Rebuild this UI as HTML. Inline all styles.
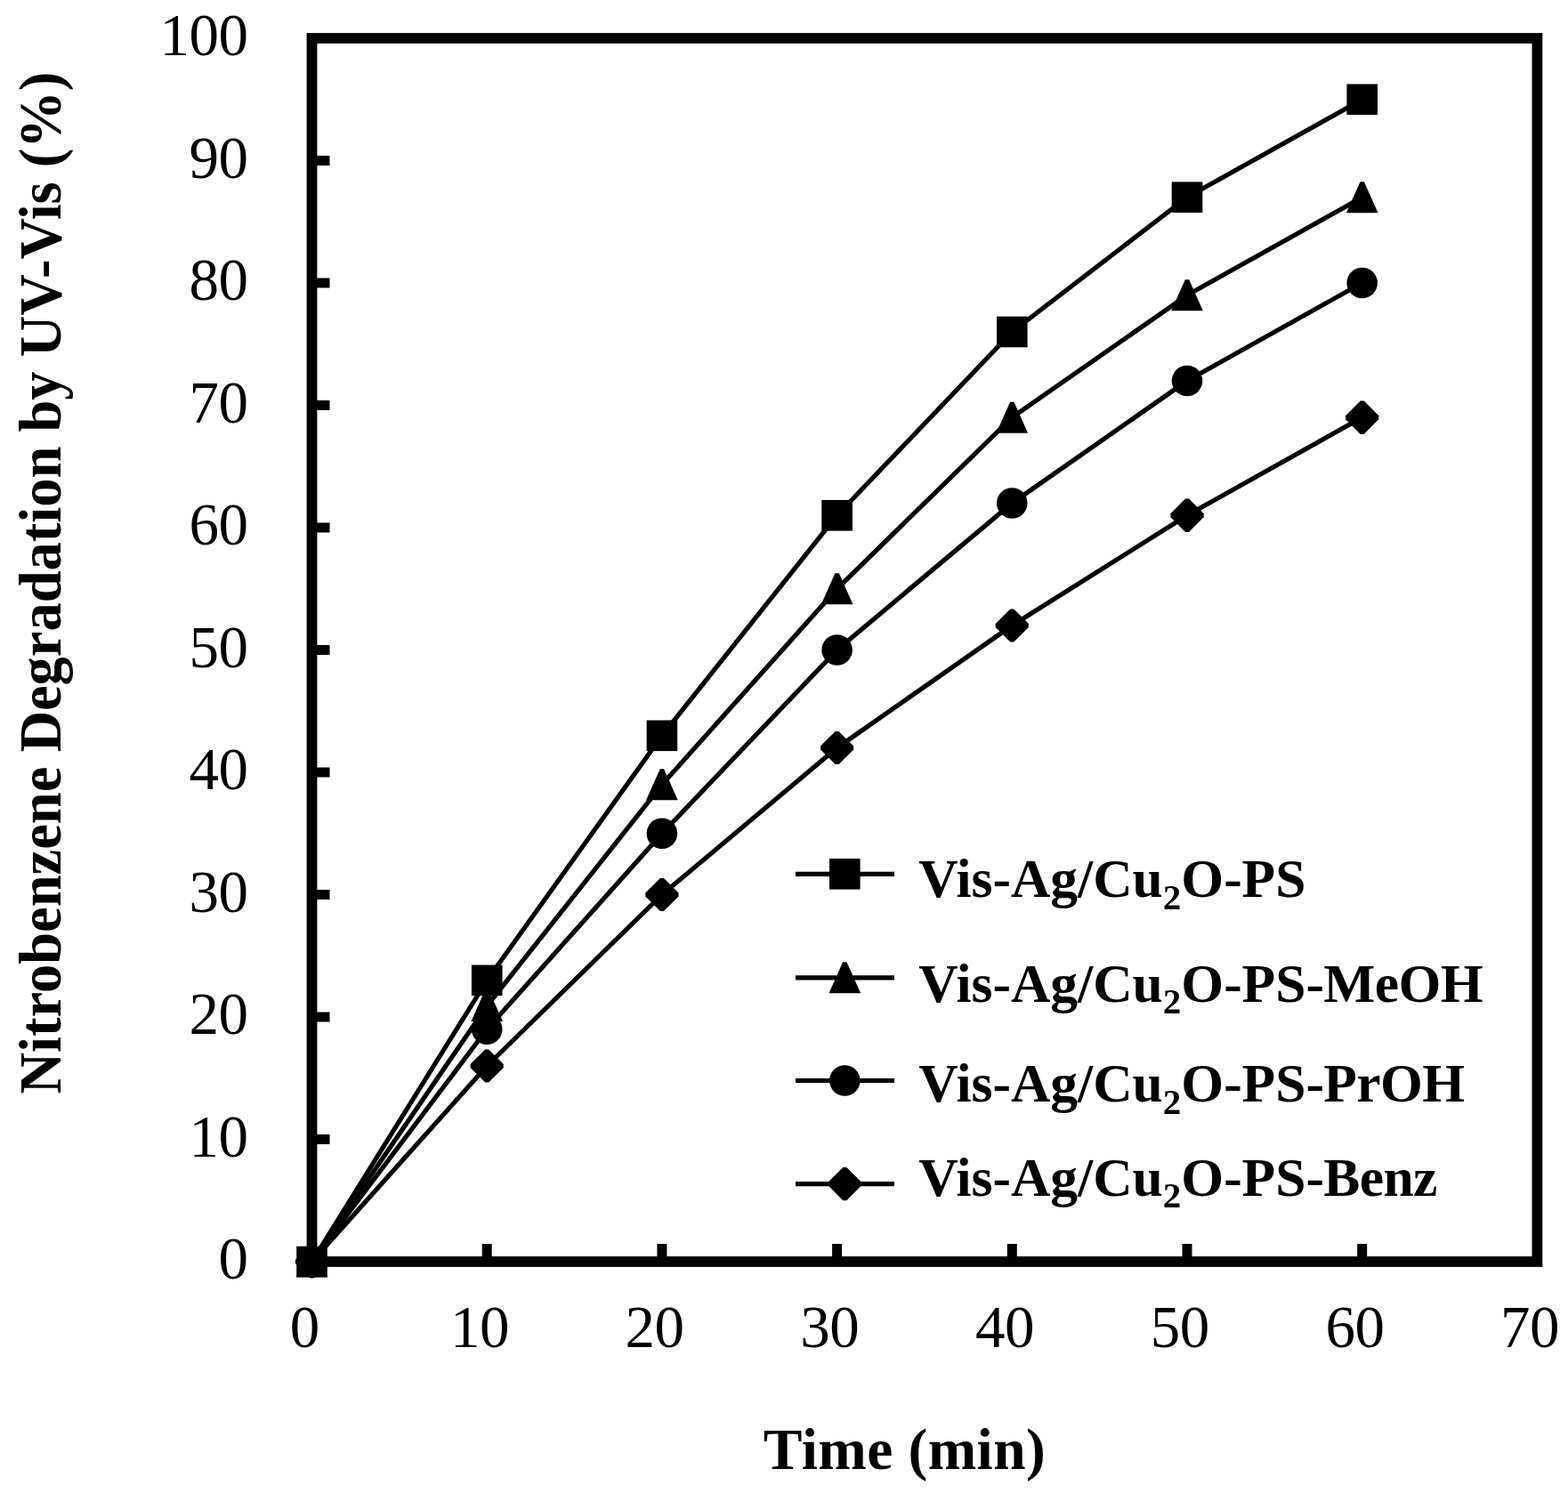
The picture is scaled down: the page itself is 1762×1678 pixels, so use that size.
<!DOCTYPE html>
<html><head><meta charset="utf-8"><title>Nitrobenzene degradation chart</title>
<style>
html,body{margin:0;padding:0;background:#fff;overflow:hidden;}
svg{display:block;}
text{font-family:"Liberation Serif","Times New Roman",serif;fill:#000;}
.t{font-size:67px;letter-spacing:-0.5px;}
.xt{font-size:65.5px;font-weight:bold;letter-spacing:0.4px;}
.yt{font-size:67px;font-weight:bold;}
.lg{font-size:61.5px;font-weight:bold;}
.sub{font-size:41px;}
.sfx{letter-spacing:-0.6px;}
</style></head>
<body>
<svg width="1762" height="1678" viewBox="0 0 1762 1678">
<rect width="1762" height="1678" fill="#fff"/>
<rect x="350.5" y="43.0" width="1376.9" height="1375.0" fill="none" stroke="#000" stroke-width="11.8" stroke-linejoin="miter"/>
<line x1="547.2" y1="1418.0" x2="547.2" y2="1398.0" stroke="#000" stroke-width="11"/>
<line x1="743.9" y1="1418.0" x2="743.9" y2="1398.0" stroke="#000" stroke-width="11"/>
<line x1="940.6" y1="1418.0" x2="940.6" y2="1398.0" stroke="#000" stroke-width="11"/>
<line x1="1137.3" y1="1418.0" x2="1137.3" y2="1398.0" stroke="#000" stroke-width="11"/>
<line x1="1334.0" y1="1418.0" x2="1334.0" y2="1398.0" stroke="#000" stroke-width="11"/>
<line x1="1530.7" y1="1418.0" x2="1530.7" y2="1398.0" stroke="#000" stroke-width="11"/>
<line x1="350.5" y1="1280.5" x2="370.5" y2="1280.5" stroke="#000" stroke-width="11"/>
<line x1="350.5" y1="1143.0" x2="370.5" y2="1143.0" stroke="#000" stroke-width="11"/>
<line x1="350.5" y1="1005.5" x2="370.5" y2="1005.5" stroke="#000" stroke-width="11"/>
<line x1="350.5" y1="868.0" x2="370.5" y2="868.0" stroke="#000" stroke-width="11"/>
<line x1="350.5" y1="730.5" x2="370.5" y2="730.5" stroke="#000" stroke-width="11"/>
<line x1="350.5" y1="593.0" x2="370.5" y2="593.0" stroke="#000" stroke-width="11"/>
<line x1="350.5" y1="455.5" x2="370.5" y2="455.5" stroke="#000" stroke-width="11"/>
<line x1="350.5" y1="318.0" x2="370.5" y2="318.0" stroke="#000" stroke-width="11"/>
<line x1="350.5" y1="180.5" x2="370.5" y2="180.5" stroke="#000" stroke-width="11"/>
<polyline points="350.5,1418.0 547.2,1101.8 743.9,826.8 940.6,579.2 1137.3,373.0 1334.0,221.8 1530.7,111.8" fill="none" stroke="#000" stroke-width="5.2" stroke-linejoin="round"/>
<polyline points="350.5,1418.0 547.2,1130.6 743.9,881.8 940.6,661.8 1137.3,469.2 1334.0,331.8 1530.7,221.8" fill="none" stroke="#000" stroke-width="5.2" stroke-linejoin="round"/>
<polyline points="350.5,1418.0 547.2,1156.8 743.9,936.8 940.6,730.5 1137.3,565.5 1334.0,428.0 1530.7,318.0" fill="none" stroke="#000" stroke-width="5.2" stroke-linejoin="round"/>
<polyline points="350.5,1418.0 547.2,1198.0 743.9,1005.5 940.6,840.5 1137.3,703.0 1334.0,579.2 1530.7,469.2" fill="none" stroke="#000" stroke-width="5.2" stroke-linejoin="round"/>
<rect x="333.2" y="1400.7" width="34.6" height="34.6"/>
<rect x="529.9" y="1084.5" width="34.6" height="34.6"/>
<rect x="726.6" y="809.5" width="34.6" height="34.6"/>
<rect x="923.3" y="562.0" width="34.6" height="34.6"/>
<rect x="1120.0" y="355.7" width="34.6" height="34.6"/>
<rect x="1316.7" y="204.4" width="34.6" height="34.6"/>
<rect x="1513.4" y="94.5" width="34.6" height="34.6"/>
<polygon points="348.3,1400.5 352.7,1400.5 368.3,1435.5 332.7,1435.5"/>
<polygon points="545.0,1113.1 549.4,1113.1 565.0,1148.1 529.4,1148.1"/>
<polygon points="741.7,864.2 746.1,864.2 761.7,899.2 726.1,899.2"/>
<polygon points="938.4,644.2 942.8,644.2 958.4,679.2 922.8,679.2"/>
<polygon points="1135.1,451.8 1139.5,451.8 1155.1,486.8 1119.5,486.8"/>
<polygon points="1331.8,314.2 1336.2,314.2 1351.8,349.2 1316.2,349.2"/>
<polygon points="1528.5,204.2 1532.9,204.2 1548.5,239.2 1512.9,239.2"/>
<circle cx="350.5" cy="1418.0" r="17.3"/>
<circle cx="547.2" cy="1156.8" r="17.3"/>
<circle cx="743.9" cy="936.8" r="17.3"/>
<circle cx="940.6" cy="730.5" r="17.3"/>
<circle cx="1137.3" cy="565.5" r="17.3"/>
<circle cx="1334.0" cy="428.0" r="17.3"/>
<circle cx="1530.7" cy="318.0" r="17.3"/>
<polygon points="348.5,1399.4 352.5,1399.4 369.1,1416.0 369.1,1420.0 352.5,1436.6 348.5,1436.6 331.9,1420.0 331.9,1416.0"/>
<polygon points="545.2,1179.4 549.2,1179.4 565.8,1196.0 565.8,1200.0 549.2,1216.6 545.2,1216.6 528.6,1200.0 528.6,1196.0"/>
<polygon points="741.9,986.9 745.9,986.9 762.5,1003.5 762.5,1007.5 745.9,1024.1 741.9,1024.1 725.3,1007.5 725.3,1003.5"/>
<polygon points="938.6,821.9 942.6,821.9 959.2,838.5 959.2,842.5 942.6,859.1 938.6,859.1 922.0,842.5 922.0,838.5"/>
<polygon points="1135.3,684.4 1139.3,684.4 1155.9,701.0 1155.9,705.0 1139.3,721.6 1135.3,721.6 1118.7,705.0 1118.7,701.0"/>
<polygon points="1332.0,560.6 1336.0,560.6 1352.6,577.2 1352.6,581.2 1336.0,597.9 1332.0,597.9 1315.4,581.2 1315.4,577.2"/>
<polygon points="1528.7,450.6 1532.7,450.6 1549.3,467.2 1549.3,471.2 1532.7,487.9 1528.7,487.9 1512.1,471.2 1512.1,467.2"/>
<text x="342.2" y="1514" text-anchor="middle" class="t">0</text>
<text x="538.9" y="1514" text-anchor="middle" class="t">10</text>
<text x="735.6" y="1514" text-anchor="middle" class="t">20</text>
<text x="932.3" y="1514" text-anchor="middle" class="t">30</text>
<text x="1129.0" y="1514" text-anchor="middle" class="t">40</text>
<text x="1325.7" y="1514" text-anchor="middle" class="t">50</text>
<text x="1522.4" y="1514" text-anchor="middle" class="t">60</text>
<text x="1719.1" y="1514" text-anchor="middle" class="t">70</text>
<text x="278.5" y="1437.3" text-anchor="end" class="t">0</text>
<text x="278.5" y="1299.8" text-anchor="end" class="t">10</text>
<text x="278.5" y="1162.3" text-anchor="end" class="t">20</text>
<text x="278.5" y="1024.8" text-anchor="end" class="t">30</text>
<text x="278.5" y="887.3" text-anchor="end" class="t">40</text>
<text x="278.5" y="749.8" text-anchor="end" class="t">50</text>
<text x="278.5" y="612.3" text-anchor="end" class="t">60</text>
<text x="278.5" y="474.8" text-anchor="end" class="t">70</text>
<text x="278.5" y="337.3" text-anchor="end" class="t">80</text>
<text x="278.5" y="199.8" text-anchor="end" class="t">90</text>
<text x="278.5" y="62.3" text-anchor="end" class="t">100</text>
<text x="1016.5" y="1651.3" text-anchor="middle" class="xt">Time (min)</text>
<text transform="translate(68,655.1) rotate(-90) scale(0.9627,1)" text-anchor="middle" class="yt">Nitrobenzene Degradation by UV-Vis (%)</text>
<line x1="894" y1="982.3" x2="1005" y2="982.3" stroke="#000" stroke-width="5.2"/>
<rect x="932.0" y="965.0" width="34.6" height="34.6"/>
<text x="1032.3" y="1008.4" class="lg">Vis-Ag/Cu<tspan class="sub" dy="13.5">2</tspan><tspan dy="-13.5">O-PS</tspan></text>
<line x1="894" y1="1098.8" x2="1005" y2="1098.8" stroke="#000" stroke-width="5.2"/>
<polygon points="947.1,1081.3 951.5,1081.3 967.1,1116.3 931.5,1116.3"/>
<text x="1032.3" y="1125.6" class="lg">Vis-Ag/Cu<tspan class="sub" dy="13.5">2</tspan><tspan dy="-13.5">O-PS</tspan><tspan class="sfx">-MeOH</tspan></text>
<line x1="894" y1="1214.5" x2="1005" y2="1214.5" stroke="#000" stroke-width="5.2"/>
<circle cx="949.3" cy="1214.5" r="17.3"/>
<text x="1032.3" y="1238.0" class="lg">Vis-Ag/Cu<tspan class="sub" dy="13.5">2</tspan><tspan dy="-13.5">O-PS</tspan><tspan class="sfx">-PrOH</tspan></text>
<line x1="894" y1="1330.6" x2="1005" y2="1330.6" stroke="#000" stroke-width="5.2"/>
<polygon points="947.3,1312.0 951.3,1312.0 967.9,1328.6 967.9,1332.6 951.3,1349.2 947.3,1349.2 930.7,1332.6 930.7,1328.6"/>
<text x="1032.3" y="1343.6" class="lg">Vis-Ag/Cu<tspan class="sub" dy="13.5">2</tspan><tspan dy="-13.5">O-PS</tspan><tspan class="sfx">-Benz</tspan></text>
</svg>
</body></html>
